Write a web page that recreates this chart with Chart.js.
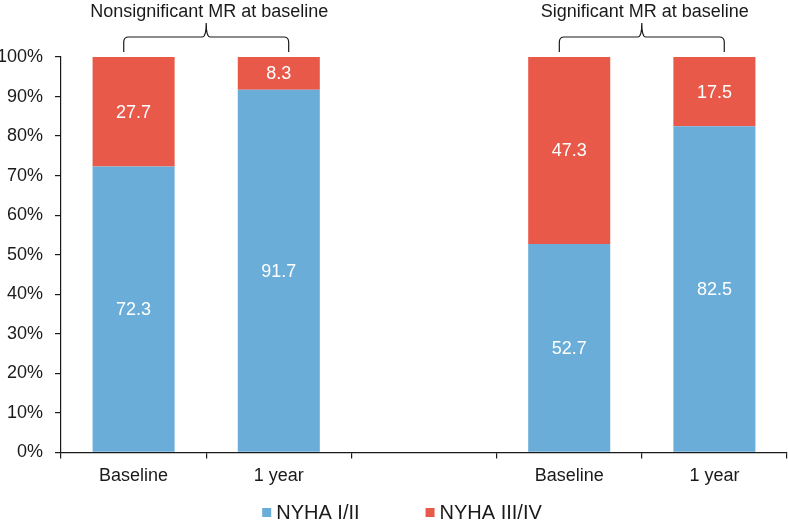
<!DOCTYPE html>
<html>
<head>
<meta charset="utf-8">
<script src="https://cdn.jsdelivr.net/npm/chart.js@4/dist/chart.umd.min.js"></script>
<style>
  html, body { margin: 0; padding: 0; background: #fff; }
  #wrap { width: 788px; height: 520px; }
</style>
</head>
<body>
<div id="wrap"><canvas id="chart" width="788" height="520"></canvas></div>
<script>
const categories = ["Baseline", "1 year", "", "Baseline", "1 year"];
const nyhaLow = [72.3, 91.7, null, 52.7, 82.5];
const nyhaHigh = [27.7, 8.3, null, 47.3, 17.5];
const groupTitles = ["Nonsignificant MR at baseline", "Significant MR at baseline"];
const groupStarts = [0, 3];

const blue = "#6badd9";
const red = "#e8594a";
const ink = "#1a1a1a";
const font = "'Liberation Sans', Arial, sans-serif";

// white numbers in the middle of each stacked segment
const segmentLabels = {
  id: "segmentLabels",
  afterDatasetsDraw(chart) {
    const ctx = chart.ctx;
    ctx.save();
    ctx.fillStyle = "#fff";
    ctx.font = "18px " + font;
    ctx.textAlign = "center";
    ctx.textBaseline = "middle";
    chart.data.datasets.forEach((ds, i) => {
      chart.getDatasetMeta(i).data.forEach((bar, j) => {
        if (ds.data[j] == null) return;
        const y = (bar.y + bar.base) / 2;
        ctx.fillText(ds.data[j].toFixed(1), bar.x, y + 1);
      });
    });
    ctx.restore();
  }
};

// curly braces + group titles above the bars
const groupBraces = {
  id: "groupBraces",
  afterDraw(chart) {
    const ctx = chart.ctx;
    const xs = chart.scales.x;
    const top = chart.chartArea.top;
    const step = xs.getPixelForValue(1) - xs.getPixelForValue(0);
    ctx.save();
    ctx.strokeStyle = ink;
    ctx.lineWidth = 1.2;
    groupStarts.forEach((start, g) => {
      const mid = (xs.getPixelForValue(start) + xs.getPixelForValue(start + 1)) / 2;
      const half = step * 0.568;
      const x1 = mid - half, x2 = mid + half;
      const yEnd = top - 5, yBar = top - 20, yTip = top - 34;
      ctx.beginPath();
      ctx.moveTo(x1, yEnd);
      ctx.lineTo(x1, yBar + 5);
      ctx.quadraticCurveTo(x1, yBar, x1 + 5, yBar);
      ctx.lineTo(mid - 4, yBar);
      ctx.quadraticCurveTo(mid, yBar, mid, yTip);
      ctx.quadraticCurveTo(mid, yBar, mid + 4, yBar);
      ctx.lineTo(x2 - 5, yBar);
      ctx.quadraticCurveTo(x2, yBar, x2, yBar + 5);
      ctx.lineTo(x2, yEnd);
      ctx.stroke();

      ctx.fillStyle = ink;
      ctx.font = "18px " + font;
      ctx.textAlign = "center";
      ctx.textBaseline = "middle";
      ctx.fillText(groupTitles[g], mid + 3, 12);
    });
    ctx.restore();
  }
};

// legend drawn by hand so the item spacing matches
const bottomLegend = {
  id: "bottomLegend",
  afterDraw(chart) {
    const ctx = chart.ctx;
    ctx.save();
    ctx.font = "20px " + font;
    ctx.textBaseline = "middle";
    const y = 512;
    const gap = 66;
    const box = 9;
    const items = chart.data.datasets.map(ds => ({ text: ds.label, color: ds.backgroundColor }));
    const widths = items.map(it => box + 5 + ctx.measureText(it.text).width);
    const total = widths.reduce((a, b) => a + b, 0) + gap * (items.length - 1);
    let x = 402 - total / 2;
    items.forEach((it, i) => {
      ctx.fillStyle = it.color;
      ctx.fillRect(x, y - 4, box, box);
      ctx.fillStyle = ink;
      ctx.fillText(it.text, x + box + 5, y + 1);
      x += widths[i] + gap;
    });
    ctx.restore();
  }
};

new Chart(document.getElementById("chart"), {
  type: "bar",
  data: {
    labels: categories,
    datasets: [
      { label: "NYHA I/II", data: nyhaLow, backgroundColor: blue },
      { label: "NYHA III/IV", data: nyhaHigh, backgroundColor: red }
    ]
  },
  options: {
    responsive: false,
    animation: false,
    layout: { padding: { top: 57, right: 1, left: 0, bottom: 26 } },
    datasets: { bar: { categoryPercentage: 0.565, barPercentage: 1 } },
    plugins: {
      legend: { display: false },
      tooltip: { enabled: false }
    },
    scales: {
      x: {
        stacked: true,
        border: { color: ink, width: 1.2 },
        grid: { offset: true, drawOnChartArea: false, drawTicks: true, tickLength: 6, color: ink, lineWidth: 1.2 },
        ticks: { color: ink, font: { family: font, size: 18 }, padding: 7 }
      },
      y: {
        stacked: true,
        min: 0,
        max: 100,
        afterFit(scale) { scale.width = 61; },
        border: { color: ink, width: 1.2 },
        grid: { drawOnChartArea: false, drawTicks: true, tickLength: 6, color: ink, lineWidth: 1.2 },
        ticks: {
          stepSize: 10,
          color: ink,
          font: { family: font, size: 18 },
          padding: 12,
          callback: v => v + "%"
        }
      }
    }
  },
  plugins: [segmentLabels, groupBraces, bottomLegend]
});
</script>
</body>
</html>
